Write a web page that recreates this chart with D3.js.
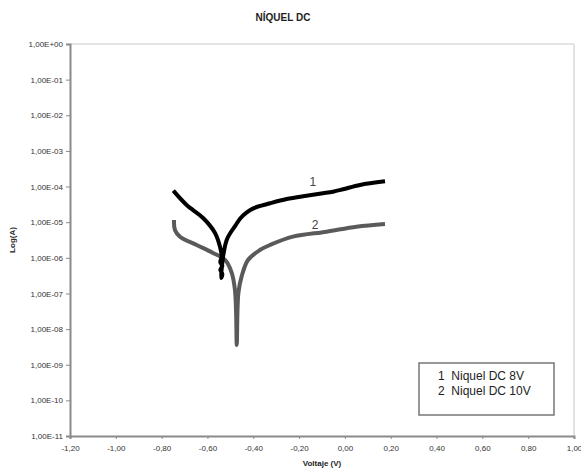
<!DOCTYPE html>
<html>
<head>
<meta charset="utf-8">
<script src="https://cdn.jsdelivr.net/npm/d3@7"></script>
<style>
  body { margin: 0; background: #fff; }
  text { font-family: "Liberation Sans", Arial, sans-serif; }
</style>
</head>
<body>
<div id="chart"></div>
<script>
// Voltage (V) and current (A)
const voltage8V = [-0.749, -0.691, -0.619, -0.567, -0.545, -0.538, -0.544, -0.535, -0.544, -0.535, -0.540, -0.532,
  -0.516, -0.500, -0.478, -0.458, -0.430, -0.400, -0.327, -0.254, -0.167, -0.096, -0.052, -0.008, 0.066, 0.175];
const current8V = [7.66e-5, 3.04e-5, 1.31e-5, 4.98e-6, 2.01e-6, 1.08e-6, 7.6e-7, 5.9e-7, 4.6e-7, 3.5e-7, 2.7e-7, 1.06e-6,
  3.17e-6, 5.0e-6, 8.0e-6, 1.25e-5, 1.86e-5, 2.45e-5, 3.39e-5, 4.48e-5, 5.54e-5, 6.47e-5, 7.18e-5, 8.38e-5, 1.11e-4, 1.40e-4];

const voltage10V = [-0.746, -0.742, -0.720, -0.647, -0.576, -0.523, -0.494, -0.480, -0.475, -0.472,
  -0.465, -0.451, -0.423, -0.371, -0.327, -0.227, -0.080, 0.051, 0.175];
const current10V = [1.15e-5, 6.04e-6, 3.92e-6, 2.29e-6, 1.37e-6, 8.69e-7, 3.76e-7, 1.25e-7, 2.83e-8, 3.58e-9,
  1.03e-7, 2.96e-7, 8.69e-7, 1.66e-6, 2.29e-6, 3.92e-6, 5.42e-6, 7.48e-6, 8.91e-6];

const xTicks = [-1.2, -1.0, -0.8, -0.6, -0.4, -0.2, 0.0, 0.2, 0.4, 0.6, 0.8, 1.0];
const yTicks = [1e0, 1e-1, 1e-2, 1e-3, 1e-4, 1e-5, 1e-6, 1e-7, 1e-8, 1e-9, 1e-10, 1e-11];
const legendLabels = ['1  Niquel DC 8V', '2  Niquel DC 10V'];

const width = 581;
const height = 470;
const margin = { top: 44, right: 7, bottom: 34, left: 70 };

const svg = d3.select('#chart')
  .append('svg')
  .attr('width', width)
  .attr('height', height);

const x = d3.scaleLinear()
  .domain([-1.2, 1.0])
  .range([margin.left, width - margin.right]);

const y = d3.scaleLog()
  .domain([1e-11, 1e0])
  .range([height - margin.bottom, margin.top]);

// plot frame (top and right)
svg.append('path')
  .attr('d', `M${x(-1.2)},${y(1)}H${x(1.0)}V${y(1e-11)}`)
  .attr('fill', 'none')
  .attr('stroke', '#c8c8c8')
  .attr('stroke-width', 1);

// y axis
const fmtY = d => {
  const e = Math.round(Math.log10(d));
  return '1,00E' + (e >= 0 ? '+' : '-') + String(Math.abs(e)).padStart(2, '0');
};
const yAxis = svg.append('g')
  .attr('transform', `translate(${margin.left},0)`)
  .call(d3.axisLeft(y).tickValues(yTicks).tickFormat(fmtY).tickSize(4).tickPadding(3));

// x axis
const fmtX = d => d3.format('.2f')(d).replace('.', ',').replace('−', '-');
const xAxis = svg.append('g')
  .attr('transform', `translate(0,${height - margin.bottom})`)
  .call(d3.axisBottom(x).tickValues(xTicks).tickFormat(fmtX).tickSize(3).tickPadding(6));

[yAxis, xAxis].forEach(g => {
  g.select('.domain').attr('stroke', '#8a8a8a').attr('stroke-width', 2);
  g.selectAll('.tick line').attr('stroke', '#8a8a8a');
  g.selectAll('.tick text')
    .attr('fill', '#333')
    .style('font-family', '"Liberation Sans", Arial, sans-serif')
    .style('font-size', '8px');
});

// curves
const line = d3.line()
  .x(d => x(d[0]))
  .y(d => y(d[1]))
  .curve(d3.curveCatmullRom.alpha(0.5));

svg.append('path')
  .datum(d3.zip(voltage10V, current10V))
  .attr('d', line)
  .attr('fill', 'none')
  .attr('stroke', '#5a5a5a')
  .attr('stroke-width', 4)
  .attr('stroke-linejoin', 'round');

svg.append('path')
  .datum(d3.zip(voltage8V, current8V))
  .attr('d', line)
  .attr('fill', 'none')
  .attr('stroke', '#000')
  .attr('stroke-width', 4)
  .attr('stroke-linejoin', 'round');

// curve numbers
svg.append('text')
  .attr('x', x(-0.14))
  .attr('y', y(1.05e-4))
  .attr('text-anchor', 'middle')
  .attr('fill', '#444')
  .style('font-size', '12px')
  .text('1');

svg.append('text')
  .attr('x', x(-0.13))
  .attr('y', y(6.4e-6))
  .attr('text-anchor', 'middle')
  .attr('fill', '#444')
  .style('font-size', '12px')
  .text('2');

// title and axis labels
svg.append('text')
  .attr('x', 283)
  .attr('y', 21)
  .attr('text-anchor', 'middle')
  .style('font-size', '10px')
  .style('font-weight', 'bold')
  .attr('fill', '#222')
  .text('NÍQUEL DC');

svg.append('text')
  .attr('x', (x(-1.2) + x(1.0)) / 2)
  .attr('y', 466)
  .attr('text-anchor', 'middle')
  .style('font-size', '8px')
  .style('font-weight', 'bold')
  .attr('fill', '#222')
  .text('Voltaje (V)');

svg.append('text')
  .attr('transform', `translate(15,${(y(1) + y(1e-11)) / 2}) rotate(-90)`)
  .attr('text-anchor', 'middle')
  .style('font-size', '8px')
  .style('font-weight', 'bold')
  .attr('fill', '#222')
  .text('Log(A)');

// legend
const legend = svg.append('g').attr('transform', 'translate(419,363)');
legend.append('rect')
  .attr('width', 135)
  .attr('height', 52)
  .attr('fill', '#fff')
  .attr('stroke', '#777')
  .attr('stroke-width', 1.5);
legend.selectAll('text')
  .data(legendLabels)
  .enter()
  .append('text')
  .attr('x', 19)
  .attr('y', (d, i) => 17 + i * 15)
  .attr('fill', '#222')
  .style('font-size', '12px')
  .style('white-space', 'pre')
  .text(d => d);
</script>
</body>
</html>
